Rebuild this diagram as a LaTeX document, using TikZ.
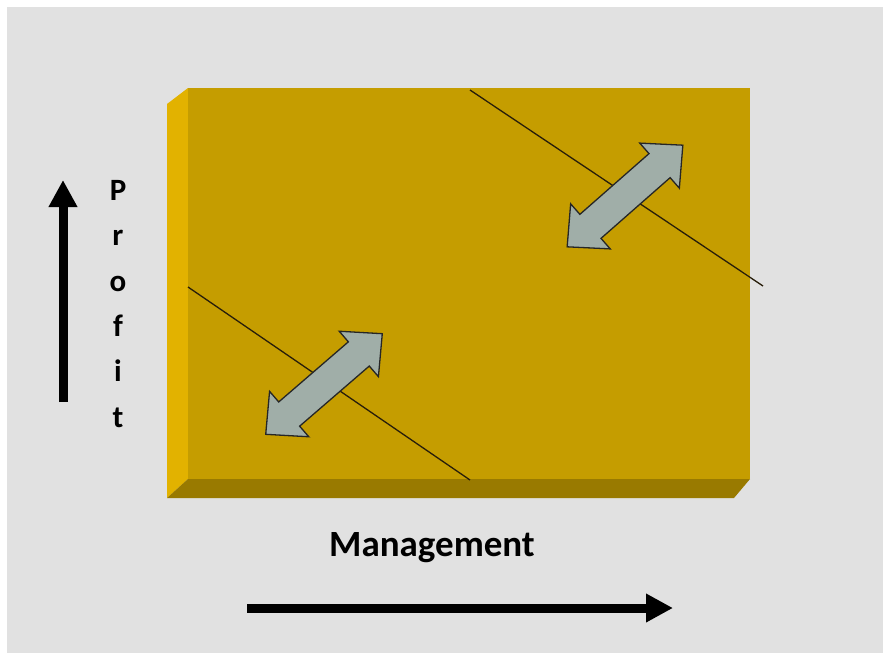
\documentclass[tikz,border=0pt]{standalone}
\usepackage{fontspec}
\setmainfont{Carlito}
\usetikzlibrary{arrows.meta}
\definecolor{bgGrey}{RGB}{225,225,225}
\definecolor{boxFront}{RGB}{197,157,0}
\definecolor{boxSide}{RGB}{226,178,0}
\definecolor{boxBottom}{RGB}{153,122,0}
\definecolor{arrowFill}{RGB}{160,174,168}
\definecolor{lineDark}{RGB}{40,30,10}
\tikzset{
  axisarrow/.style={line width=9pt,-{Triangle[length=27pt,width=27pt]}},
  borderline/.style={draw=lineDark,line width=1.3pt},
  twoway/.style={fill=arrowFill,draw=black!85,line width=1.3pt,line join=miter},
  axislabel/.style={font=\bfseries\fontsize{37}{40}\selectfont,inner sep=0pt},
  letterlabel/.style={font=\bfseries\fontsize{31}{34}\selectfont,inner sep=0pt,anchor=base}
}
% two-headed block arrow centred at #1, turned by #2 degrees
\newcommand{\twowayarrow}[2]{%
  \begin{scope}[shift={(#1)},rotate=#2]
    \fill[twoway] (77,0) -- (46,30) -- (46,16) -- (-46,16) -- (-46,30) -- (-77,0)
      -- (-46,-30) -- (-46,-16) -- (46,-16) -- (46,-30) -- cycle;
  \end{scope}}
\begin{document}
\begin{tikzpicture}[x=1pt,y=-1pt]
  \useasboundingbox (0,0) rectangle (883,653);
  \fill[white] (0,0) rectangle (883,653);
  \fill[bgGrey] (7,7) rectangle (883,653);

  % extruded board: front face, left bevel, bottom bevel
  \fill[boxSide] (188,88) -- (167,104) -- (167,498) -- (188,479) -- cycle;
  \fill[boxBottom] (188,479) -- (750,479) -- (734,498) -- (167,498) -- cycle;
  \fill[boxFront] (188,88) rectangle (750,479);

  % diagonal boundary lines
  \coordinate (u1) at (470,90);
  \coordinate (u2) at (763,286);
  \coordinate (l1) at (188,287);
  \coordinate (l2) at (470,480);
  \draw[borderline] (u1) -- (u2);
  \draw[borderline] (l1) -- (l2);

  % two-way arrows across the lines
  \twowayarrow{625,196}{41.3}
  \twowayarrow{324,384}{40.8}

  % vertical axis
  \coordinate (pa) at (63,402);
  \coordinate (pb) at (63,180);
  \draw[axisarrow] (pa) -- (pb);
  \foreach \ch/\yy [count=\i] in {P/200,r/245,o/291,f/336,i/381,t/427}
    \node[letterlabel] (prof\i) at (118,\yy) {\ch};

  % horizontal axis
  \node[axislabel] (mgmt) at (432,548) {Management};
  \coordinate (ma) at (247,608);
  \coordinate (mb) at (673,608);
  \draw[axisarrow] (ma) -- (mb);
\end{tikzpicture}
\end{document}
